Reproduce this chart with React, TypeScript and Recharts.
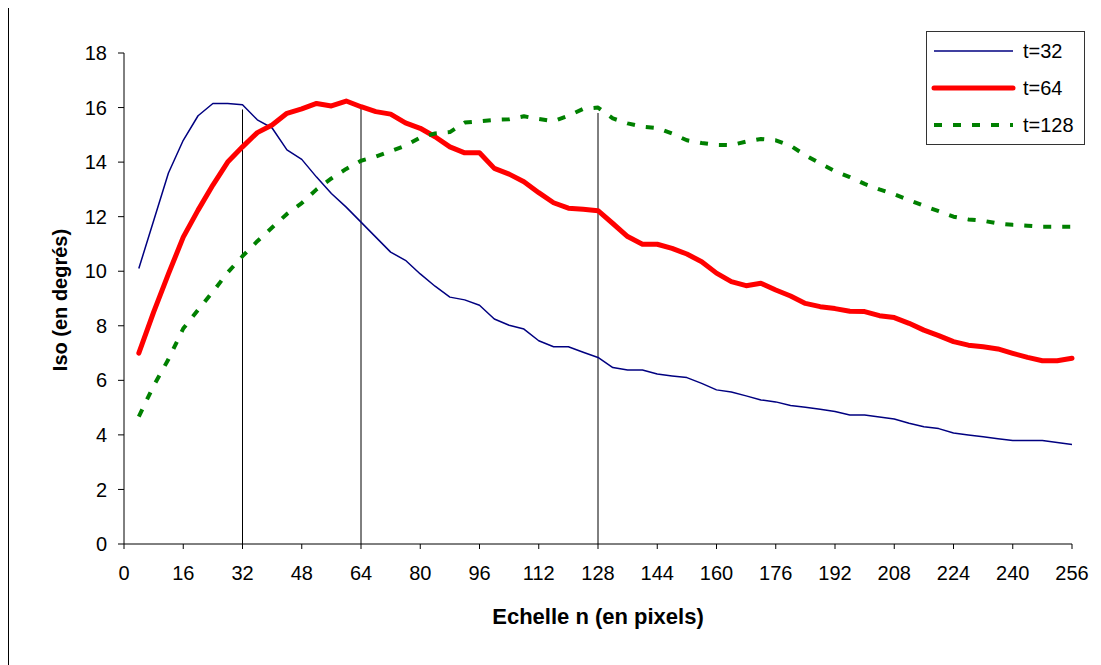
import { LineChart, Line, XAxis, YAxis, ReferenceLine, Legend } from 'recharts';

// Echelle n (en pixels)
const scales = [
  4, 8, 12, 16, 20, 24, 28, 32, 36, 40, 44, 48, 52, 56, 60, 64,
  68, 72, 76, 80, 84, 88, 92, 96, 100, 104, 108, 112, 116, 120, 124, 128,
  132, 136, 140, 144, 148, 152, 156, 160, 164, 168, 172, 176, 180, 184, 188, 192,
  196, 200, 204, 208, 212, 216, 220, 224, 228, 232, 236, 240, 244, 248, 252, 256,
];

// Iso (en degrés) per t
const isoT32 = [
  10.1, 11.85, 13.6, 14.8, 15.7, 16.15, 16.15, 16.1, 15.55, 15.25, 14.45, 14.1, 13.45, 12.85, 12.35, 11.8,
  11.25, 10.7, 10.4, 9.9, 9.45, 9.05, 8.95, 8.75, 8.25, 8.02, 7.88, 7.45, 7.23, 7.23, 7.03, 6.84,
  6.47, 6.38, 6.38, 6.23, 6.16, 6.1, 5.89, 5.65, 5.57, 5.43, 5.28, 5.21, 5.08, 5.01, 4.94, 4.86,
  4.73, 4.73, 4.66, 4.58, 4.43, 4.3, 4.23, 4.07, 4.0, 3.93, 3.86, 3.79, 3.79, 3.79, 3.72, 3.65,
];
const isoT64 = [
  7.0, 8.5, 9.9, 11.25, 12.24, 13.16, 14.0, 14.56, 15.08, 15.36, 15.79, 15.95, 16.15, 16.06, 16.24, 16.03,
  15.85, 15.76, 15.44, 15.24, 14.93, 14.56, 14.34, 14.34, 13.77, 13.56, 13.28, 12.88, 12.51, 12.31, 12.27, 12.22,
  11.75, 11.27, 10.99, 10.99, 10.84, 10.63, 10.35, 9.93, 9.62, 9.47, 9.56, 9.31, 9.09, 8.82, 8.7, 8.63,
  8.53, 8.52, 8.37, 8.3, 8.09, 7.84, 7.64, 7.42, 7.29, 7.23, 7.15, 6.99, 6.84, 6.72, 6.72, 6.81,
];
const isoT128 = [
  4.67, 5.8, 6.77, 7.9, 8.58, 9.25, 9.95, 10.55, 11.1, 11.6, 12.1, 12.5, 13.0, 13.4, 13.75, 14.05,
  14.2, 14.4, 14.6, 14.9, 15.05, 15.1, 15.45, 15.5, 15.55, 15.57, 15.68, 15.58, 15.5, 15.7, 15.95, 16.0,
  15.6, 15.42, 15.3, 15.25, 15.05, 14.8, 14.7, 14.63, 14.62, 14.75, 14.85, 14.8, 14.6, 14.25, 13.95, 13.67,
  13.45, 13.2, 13.0, 12.82, 12.61, 12.4, 12.2, 12.0, 11.9, 11.85, 11.75, 11.7, 11.67, 11.63, 11.63, 11.63,
];

const xTicks = [0, 16, 32, 48, 64, 80, 96, 112, 128, 144, 160, 176, 192, 208, 224, 240, 256];
const yTicks = [0, 2, 4, 6, 8, 10, 12, 14, 16, 18];

// vertical markers at t, from 0 up to the peak
const markerScales = [32, 64, 128];
const markerTops = [15.93, 15.97, 15.8];

const data = scales.map((n, i) => ({ n, t32: isoT32[i], t64: isoT64[i], t128: isoT128[i] }));

const FONT = '"Liberation Sans", Arial, sans-serif';

const series = [
  { key: 't32', name: 't=32', color: '#000080', width: 1.5, dash: undefined as string | undefined, cap: 'butt' },
  { key: 't64', name: 't=64', color: '#ff0000', width: 5, dash: undefined as string | undefined, cap: 'round' },
  { key: 't128', name: 't=128', color: '#008000', width: 4, dash: '8 11', cap: 'butt' },
];

const legendRows = [19, 56, 93];

function LegendBox() {
  return (
    <div style={{ width: 159, height: 114, border: '1px solid #333', boxSizing: 'border-box', background: '#fff' }}>
      <svg width={157} height={112}>
        {series.map((s, i) => (
          <g key={s.key}>
            <line
              x1={7}
              x2={86}
              y1={legendRows[i]}
              y2={legendRows[i]}
              stroke={s.color}
              strokeWidth={s.width}
              strokeDasharray={s.dash}
              strokeLinecap={s.cap as any}
            />
            <text x={96} y={legendRows[i]} dy="0.35em" fontSize={20} fontFamily={FONT} fill="#000">
              {s.name}
            </text>
          </g>
        ))}
      </svg>
    </div>
  );
}

export default function App() {
  return (
    <div style={{ position: 'relative', width: 1093, height: 660, marginTop: -3, fontFamily: FONT }}>
      <div
        style={{
          position: 'absolute', left: 0, top: 0, right: 0, bottom: 0,
          borderTop: '1px solid #000', borderLeft: '1px solid #000',
        }}
      />
      <LineChart
        width={1093}
        height={660}
        data={data}
        margin={{ top: 48, right: 29, left: 0, bottom: 81 }}
      >
        <XAxis
          type="number"
          dataKey="n"
          domain={[0, 256]}
          ticks={xTicks}
          interval={0}
          height={40}
          axisLine={{ stroke: '#000' }}
          tickLine={{ stroke: '#000' }}
          tickSize={5}
          tickMargin={17}
          tick={{ fill: '#000', fontSize: 20, fontFamily: FONT }}
        />
        <YAxis
          type="number"
          domain={[0, 18]}
          ticks={yTicks}
          interval={0}
          width={116}
          axisLine={{ stroke: '#000' }}
          tickLine={{ stroke: '#000' }}
          tickSize={6}
          tickMargin={11}
          tick={{ fill: '#000', fontSize: 20, fontFamily: FONT }}
        />
        {markerScales.map((m, i) => (
          <ReferenceLine
            key={m}
            segment={[{ x: m, y: 0 }, { x: m, y: markerTops[i] }]}
            stroke="#000"
            strokeWidth={1}
            ifOverflow="visible"
          />
        ))}
        {series.map((s) => (
          <Line
            key={s.key}
            type="linear"
            dataKey={s.key}
            name={s.name}
            stroke={s.color}
            strokeWidth={s.width}
            strokeDasharray={s.dash}
            strokeLinecap={s.cap as any}
            strokeLinejoin="round"
            dot={false}
            activeDot={false}
            isAnimationActive={false}
          />
        ))}
        <Legend
          layout="horizontal"
          verticalAlign="middle"
          align="center"
          content={() => <LegendBox />}
          wrapperStyle={{ position: 'absolute', left: 918, top: 26, width: 159, height: 114 }}
        />
      </LineChart>
      <div style={{ position: 'absolute', left: 52, top: 295, width: 0, height: 0 }}>
        <div
          style={{
            position: 'absolute', transform: 'translate(-50%, -50%) rotate(-90deg)',
            whiteSpace: 'nowrap', fontWeight: 'bold', fontSize: 20, color: '#000',
          }}
        >
          Iso (en degrés)
        </div>
      </div>
      <div style={{ position: 'absolute', left: 590, top: 612, width: 0, height: 0 }}>
        <div
          style={{
            position: 'absolute', transform: 'translate(-50%, -50%)',
            whiteSpace: 'nowrap', fontWeight: 'bold', fontSize: 22, color: '#000',
          }}
        >
          Echelle n (en pixels)
        </div>
      </div>
    </div>
  );
}
